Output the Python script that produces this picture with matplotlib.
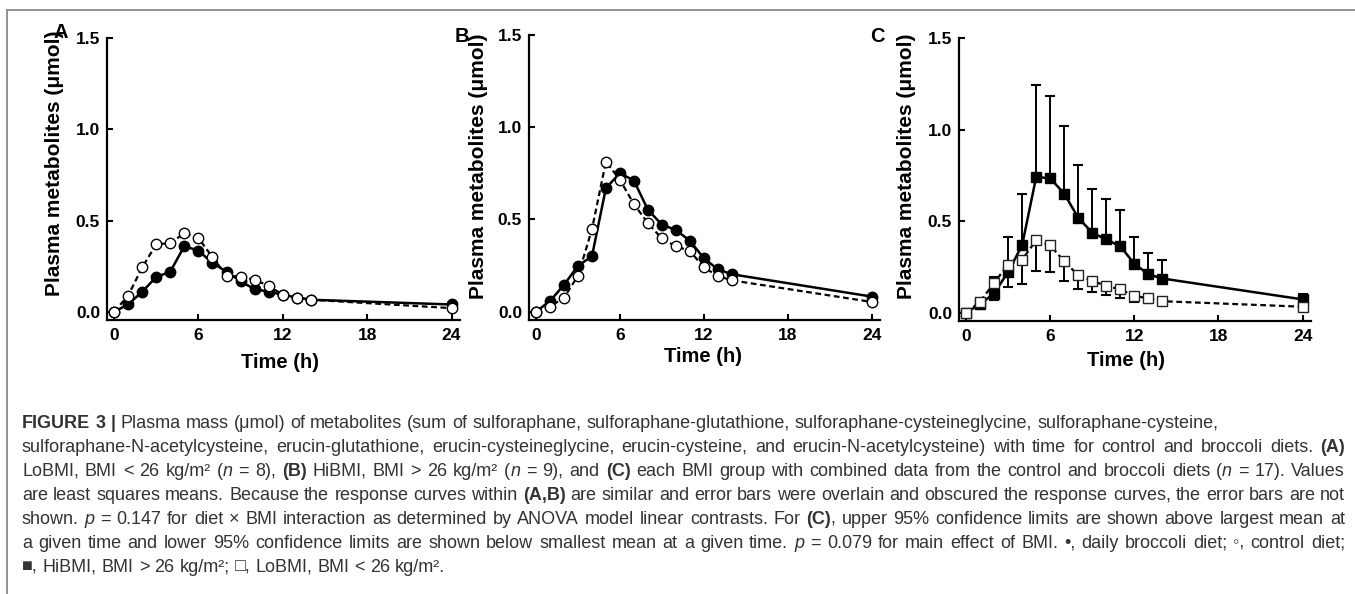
import re
import numpy as np
import matplotlib
matplotlib.use('Agg')
import matplotlib.pyplot as plt
from matplotlib.lines import Line2D
from matplotlib.transforms import IdentityTransform

# ---------------- data ----------------
hours = [0, 1, 2, 3, 4, 5, 6, 7, 8, 9, 10, 11, 12, 13, 14, 24]

# (A) LoBMI, BMI < 26
a_broccoli = [0.00, 0.04, 0.11, 0.19, 0.22, 0.36, 0.335, 0.267, 0.22, 0.166, 0.124, 0.11, 0.093, 0.078, 0.066, 0.04]
a_control = [0.00, 0.088, 0.243, 0.37, 0.376, 0.43, 0.403, 0.30, 0.197, 0.193, 0.175, 0.142, 0.093, 0.078, 0.066, 0.02]

# (B) HiBMI, BMI > 26
b_broccoli = [0.00, 0.058, 0.145, 0.249, 0.30, 0.67, 0.751, 0.711, 0.553, 0.472, 0.443, 0.385, 0.29, 0.23, 0.203, 0.082]
b_control = [0.00, 0.027, 0.076, 0.194, 0.446, 0.814, 0.715, 0.584, 0.48, 0.397, 0.354, 0.33, 0.24, 0.194, 0.17, 0.053]

# (C) each BMI group, diets combined
c_hibmi = [0.00, 0.047, 0.105, 0.223, 0.368, 0.74, 0.735, 0.65, 0.519, 0.437, 0.40, 0.363, 0.268, 0.21, 0.187, 0.073]
c_lobmi = [0.00, 0.06, 0.163, 0.263, 0.29, 0.395, 0.368, 0.281, 0.205, 0.174, 0.147, 0.127, 0.093, 0.078, 0.063, 0.033]
# upper 95% CL above the largest mean, lower 95% CL below the smallest mean
c_ci_upper = [0.01, 0.08, 0.196, 0.414, 0.649, 1.243, 1.184, 1.019, 0.804, 0.677, 0.62, 0.559, 0.414, 0.326, 0.29, 0.105]
c_ci_lower = [-0.01, 0.02, 0.07, 0.138, 0.156, 0.229, 0.223, 0.174, 0.132, 0.111, 0.096, 0.078, 0.06, 0.051, 0.045, 0.012]

y_ticks = [0.0, 0.5, 1.0, 1.5]
x_ticks = [0, 6, 12, 18, 24]
panel_letters = ['A', 'B', 'C']
y_label = 'Plasma metabolites (\u03bcmol)'
x_label = 'Time (h)'

caption_lines = [
    "**FIGURE 3 |** Plasma mass (\u03bcmol) of metabolites (sum of sulforaphane, sulforaphane-glutathione, "
    "sulforaphane-cysteineglycine, sulforaphane-cysteine,",
    "sulforaphane-N-acetylcysteine, erucin-glutathione, erucin-cysteineglycine, erucin-cysteine, and "
    "erucin-N-acetylcysteine) with time for control and broccoli diets. **(A)**",
    "LoBMI, BMI < 26 kg/m\u00b2 (*n* = 8), **(B)** HiBMI, BMI > 26 kg/m\u00b2 (*n* = 9), and **(C)** each BMI "
    "group with combined data from the control and broccoli diets (*n* = 17). Values",
    "are least squares means. Because the response curves within **(A,B)** are similar and error bars were "
    "overlain and obscured the response curves, the error bars are not",
    "shown. *p* = 0.147 for diet \u00d7 BMI interaction as determined by ANOVA model linear contrasts. "
    "For **(C)**, upper 95% confidence limits are shown above largest mean at",
    "a given time and lower 95% confidence limits are shown below smallest mean at a given time. "
    "*p* = 0.079 for main effect of BMI. \u2022, daily broccoli diet; \u25e6, control diet;",
    "\u25a0, HiBMI, BMI > 26 kg/m\u00b2; \u25a1, LoBMI, BMI < 26 kg/m\u00b2.",
]

# ---------------- figure ----------------
W, H = 1355, 594
plt.rcParams['font.family'] = ['Liberation Sans', 'DejaVu Sans']
fig = plt.figure(figsize=(W / 100, H / 100), dpi=100)


def px(x, y):
    return x / W, 1 - y / H


def add_axes(left, right, top, bottom):
    return fig.add_axes([left / W, 1 - bottom / H, (right - left) / W, (bottom - top) / H])


def style_axes(ax):
    ax.set_xlim(-0.5, 24.6)
    ax.set_ylim(-0.045, 1.5)
    ax.patch.set_alpha(0)
    for s in ['top', 'right']:
        ax.spines[s].set_visible(False)
    for s in ['left', 'bottom']:
        ax.spines[s].set_linewidth(1.6)
    ax.set_xticks(x_ticks)
    ax.set_yticks(y_ticks)
    ax.set_yticklabels(['%.1f' % v for v in y_ticks])
    ax.tick_params(direction='in', length=4, width=1.5, labelsize=12.5)
    ax.tick_params(axis='y', pad=5)
    ax.tick_params(axis='x', pad=6)
    for lab in ax.get_xticklabels() + ax.get_yticklabels():
        lab.set_fontweight('bold')


dash = (0, (2.6, 1.6))
circle_kw = dict(marker='o', ms=7.5, color='black', clip_on=False)

axes_box = [(107, 460, 38, 320), (529, 880, 35, 320), (959, 1311, 38, 321)]
axes = [add_axes(*b) for b in axes_box]

for ax, brocc, ctrl in [(axes[0], a_broccoli, a_control), (axes[1], b_broccoli, b_control)]:
    ax.plot(hours, brocc, ls='-', lw=1.8, mfc='black', mec='black', zorder=3, **circle_kw)
    ax.plot(hours, ctrl, ls=dash, lw=1.6, mfc='white', mec='black', mew=1.0, zorder=4, **circle_kw)

axc = axes[2]
hi = np.array(c_hibmi)
lo = np.array(c_lobmi)
top_mean = np.maximum(hi, lo)
bot_mean = np.minimum(hi, lo)
axc.vlines(hours, top_mean, c_ci_upper, color='black', lw=1.4, zorder=2, clip_on=False)
axc.vlines(hours, c_ci_lower, bot_mean, color='black', lw=1.4, zorder=2, clip_on=False)
axc.plot(hours, c_ci_upper, ls='none', marker='_', ms=7, mew=1.5, color='black', clip_on=False)
axc.plot(hours, c_ci_lower, ls='none', marker='_', ms=7, mew=1.5, color='black', clip_on=False)
axc.plot(hours, c_hibmi, ls='-', lw=1.8, marker='s', ms=6.5, mfc='black', mec='black',
         color='black', zorder=3, clip_on=False)
axc.plot(hours, c_lobmi, ls=dash, lw=1.6, marker='s', ms=6.5, mfc='white', mec='#222222', mew=1.0,
         color='black', zorder=4, clip_on=False)

for ax in axes:
    style_axes(ax)

# axis titles and panel letters
for (lx, ly), (tx, ty), (px_, py_), letter in zip(
        [(55, 163), (478, 166), (907, 166)],
        [(280, 363), (703, 356), (1126, 361)],
        [(61, 32), (462, 37), (877, 36)],
        panel_letters):
    fig.text(*px(lx, ly), y_label, rotation=90, ha='center', va='center',
             fontsize=15, fontweight='bold')
    fig.text(*px(tx, ty), x_label, ha='center', va='center', fontsize=14.5, fontweight='bold')
    fig.text(*px(px_, py_), letter, ha='center', va='center', fontsize=14.5, fontweight='bold')

# frame lines
frame_col = '#8a8a8a'
fig.add_artist(Line2D([7 / W, 1], [1 - 10 / H] * 2, transform=fig.transFigure, color=frame_col, lw=1.3))
fig.add_artist(Line2D([7 / W] * 2, [0, 1 - 10 / H], transform=fig.transFigure, color=frame_col, lw=1.3))

# ---------------- caption (justified, word by word) ----------------
CAP_FONT = ['Liberation Sans', 'DejaVu Sans']
CAP_COL = '#333333'
SPACE_EM = 0.278
renderer = fig.canvas.get_renderer()


def parse_words(line):
    words = [[]]
    for part in re.split(r'(\*\*.+?\*\*|\*[^*]+\*)', line):
        if not part:
            continue
        if part.startswith('**'):
            style, part = 'bold', part[2:-2]
        elif part.startswith('*'):
            style, part = 'italic', part[1:-1]
        else:
            style = 'normal'
        for i, chunk in enumerate(part.split(' ')):
            if i > 0:
                words.append([])
            if chunk:
                words[-1].append((chunk, style))
    return [w for w in words if w]


def build_words(line, size):
    out = []
    for word in parse_words(line):
        pieces = []
        for chunk, style in word:
            t = fig.text(0, 0, chunk, fontsize=size, family=CAP_FONT, color=CAP_COL,
                         fontweight='bold' if style == 'bold' else 'normal',
                         fontstyle='italic' if style == 'italic' else 'normal',
                         va='baseline', ha='left', transform=IdentityTransform())
            pieces.append([t, t.get_window_extent(renderer).width])
        out.append(pieces)
    return out


def natural_width(words, size):
    space = SPACE_EM * size * 100 / 72
    return sum(w for word in words for _, w in word) + space * (len(words) - 1)


left_px, right_px = 22, 1345
line1_end = 1221

# scale caption size so the first (unjustified) line ends where it does in the original
probe = build_words(caption_lines[0], 12)
cap_size = 12 * (line1_end - left_px) / natural_width(probe, 12)
for word in probe:
    for t, _ in word:
        t.remove()

line_centers = [423, 447, 471, 495, 519, 543, 567]
justify = [False, True, True, True, True, True, False]
for line, yc, just in zip(caption_lines, line_centers, justify):
    words = build_words(line, cap_size)
    space = SPACE_EM * cap_size * 100 / 72
    total = sum(w for word in words for _, w in word)
    gap = space
    if just and len(words) > 1:
        gap = (right_px - left_px - total) / (len(words) - 1)
    x = left_px
    base = H - (yc + 5)
    for word in words:
        for t, w in word:
            t.set_position((x, base))
            x += w
        x += gap

fig.savefig('out.png', dpi=100)
